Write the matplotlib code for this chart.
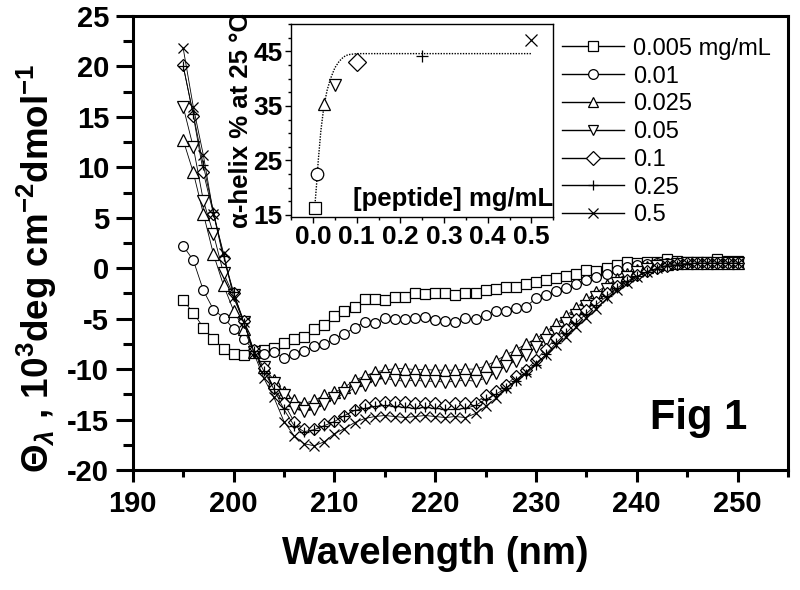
import numpy as np
import matplotlib
matplotlib.use("Agg")
import matplotlib.pyplot as plt
from matplotlib.lines import Line2D
from matplotlib.ticker import MultipleLocator

plt.rcParams["font.family"] = ["Liberation Sans", "DejaVu Sans"]
plt.rcParams["font.weight"] = "bold"
plt.rcParams["axes.labelweight"] = "bold"
plt.rcParams["axes.unicode_minus"] = False
plt.rcParams["mathtext.fontset"] = "custom"
plt.rcParams["mathtext.rm"] = "Liberation Sans:bold"
plt.rcParams["mathtext.bf"] = "Liberation Sans:bold"
plt.rcParams["mathtext.it"] = "Liberation Sans:italic"

# CD spectra, 195-250 nm, 1 nm step
wavelength = np.arange(195, 251)

conc_005 = [-3.2, -4.4, -5.9, -7.0, -8.0, -8.5, -8.6, -8.3, -8.1, -7.9,
            -7.4, -7.0, -6.8, -6.0, -5.6, -4.7, -4.2, -3.8, -3.1, -3.1,
            -3.2, -2.9, -2.9, -2.5, -2.6, -2.5, -2.5, -2.7, -2.5, -2.5,
            -2.2, -2.1, -1.85, -1.85, -1.6, -1.35, -1.2, -1.0, -0.8, -0.6,
            -0.2, -0.25, 0.0, 0.3, 0.6, 0.5, 0.6, 0.6, 0.9, 0.7,
            0.6, 0.6, 0.6, 0.9, 0.7, 0.7]
conc_01 = [2.2, 0.8, -2.2, -4.1, -4.9, -6.0, -7.0, -8.1, -8.5, -8.3,
           -8.9, -8.5, -8.2, -7.7, -7.5, -7.0, -6.5, -5.9, -5.3, -5.4,
           -4.9, -5.0, -5.0, -4.9, -4.8, -5.1, -5.2, -5.3, -4.9, -5.05,
           -4.65, -4.2, -4.2, -3.9, -3.8, -3.0, -2.7, -2.3, -2.0, -1.6,
           -1.2, -0.9, -0.6, -0.2, 0.1, 0.3, 0.4, 0.5, 0.5, 0.5,
           0.5, 0.6, 0.5, 0.6, 0.5, 0.5]
conc_025 = [12.7, 9.5, 5.4, 1.4, -1.7, -4.2, -6.0, -8.3, -9.8, -11.1,
            -12.3, -13.1, -13.4, -13.1, -12.6, -12.3, -11.8, -11.1, -10.7, -10.3,
            -10.1, -9.95, -9.95, -10.05, -10.05, -10.1, -10.1, -10.1, -10.0, -10.0,
            -9.7, -9.2, -8.6, -8.1, -7.5, -7.0, -6.3, -5.5, -4.7, -3.9,
            -3.1, -2.4, -1.7, -1.1, -0.6, -0.2, 0.1, 0.3, 0.4, 0.5,
            0.5, 0.5, 0.5, 0.5, 0.5, 0.5]
conc_05 = [16.0, 12.0, 6.7, 3.4, -0.5, -2.7, -5.3, -8.3, -9.8, -11.4,
           -12.6, -13.9, -14.2, -14.0, -13.5, -12.9, -12.4, -11.9, -11.6, -11.1,
           -10.9, -11.1, -11.2, -11.1, -11.2, -11.2, -11.3, -11.2, -11.1, -11.2,
           -10.9, -10.4, -9.7, -9.2, -8.6, -7.8, -7.1, -6.3, -5.4, -4.6,
           -3.7, -2.9, -2.1, -1.5, -0.9, -0.4, -0.1, 0.2, 0.35, 0.45,
           0.5, 0.5, 0.5, 0.5, 0.5, 0.5]
conc_1 = [20.1, 15.1, 9.5, 5.4, 1.0, -2.5, -5.2, -8.1, -9.9, -11.9,
          -13.4, -15.2, -15.9, -15.9, -15.4, -15.1, -14.6, -14.1, -13.6, -13.4,
          -13.3, -13.3, -13.3, -13.4, -13.35, -13.4, -13.6, -13.4, -13.35, -13.35,
          -12.6, -12.2, -11.6, -10.7, -10.1, -9.1, -8.0, -6.9, -6.0, -5.0,
          -4.1, -3.3, -2.5, -1.8, -1.2, -0.7, -0.3, 0.0, 0.2, 0.4,
          0.5, 0.5, 0.5, 0.5, 0.5, 0.5]
conc_25 = [20.0, 15.3, 10.2, 5.6, 1.2, -2.4, -5.4, -8.2, -10.2, -12.0,
           -14.0, -15.6, -16.2, -16.0, -15.6, -15.2, -14.6, -14.1, -13.9, -13.7,
           -13.6, -13.7, -13.8, -13.9, -13.8, -13.9, -14.0, -14.0, -13.9, -13.6,
           -13.0, -12.5, -11.9, -11.2, -10.5, -9.6, -8.5, -7.4, -6.4, -5.4,
           -4.5, -3.6, -2.8, -2.0, -1.3, -0.8, -0.4, -0.1, 0.2, 0.35,
           0.45, 0.5, 0.5, 0.5, 0.5, 0.5]
conc_5 = [21.8, 16.0, 11.2, 5.4, 1.5, -2.9, -5.3, -8.4, -10.9, -12.8,
          -15.2, -16.6, -17.4, -17.6, -17.2, -16.4, -15.9, -15.3, -14.9, -14.7,
          -14.6, -14.7, -14.8, -14.7, -14.6, -14.7, -14.8, -14.7, -14.8, -14.4,
          -13.7, -12.9, -11.9, -11.1, -10.3, -9.4, -8.6, -7.6, -6.8, -5.8,
          -4.9, -4.0, -3.0, -2.2, -1.5, -0.85, -0.35, 0.0, 0.3, 0.45,
          0.5, 0.5, 0.5, 0.5, 0.5, 0.5]

series = [conc_005, conc_01, conc_025, conc_05, conc_1, conc_25, conc_5]
labels = ["0.005 mg/mL", "0.01", "0.025", "0.05", "0.1", "0.25", "0.5"]
markers = ["s", "o", "^", "v", "D", "+", "x"]
sizes = [6.5, 7.0, 8.0, 8.0, 6.0, 7.5, 7.5]

# inset: helix content vs peptide concentration
peptide = [0.005, 0.01, 0.025, 0.05, 0.1, 0.25, 0.5]
helix = [16.3, 22.6, 35.4, 38.9, 43.1, 44.2, 47.1]
fit_x = [0.005, 0.008, 0.012, 0.018, 0.025, 0.032, 0.04, 0.05, 0.06,
         0.07, 0.08, 0.1, 0.15, 0.3, 0.5]
fit_y = [17.5, 20.5, 25.0, 30.5, 35.0, 37.8, 40.0, 42.0, 43.2,
         44.0, 44.4, 44.6, 44.6, 44.6, 44.6]

fig = plt.figure(figsize=(8, 5.9), dpi=100)
ax = fig.add_axes([0.166, 0.2034, 0.819, 0.7695])

for vals, m, s in zip(series, markers, sizes):
    ax.plot(wavelength, vals, color="k", lw=0.6, marker=m, ms=s,
            mfc="white", mec="k", mew=0.9)

ax.set_xlim(190, 255)
ax.set_ylim(-20, 25)
ax.xaxis.set_major_locator(MultipleLocator(10))
ax.xaxis.set_minor_locator(MultipleLocator(5))
ax.yaxis.set_major_locator(MultipleLocator(5))
ax.yaxis.set_minor_locator(MultipleLocator(2.5))
for sp in ax.spines.values():
    sp.set_linewidth(2.2)
ax.tick_params(axis="x", which="major", direction="out", length=8.5, width=2.2,
               labelsize=21, pad=6)
ax.tick_params(axis="x", which="minor", direction="out", length=5, width=2.2)
ax.tick_params(axis="y", which="major", direction="out", length=12, width=2.2,
               labelsize=21, pad=5)
ax.tick_params(axis="y", which="minor", direction="out", length=7, width=2.2)

ax.set_xlabel("Wavelength (nm)", fontsize=27.5, fontweight="bold")
ax.xaxis.set_label_coords(0.461, -0.145)
ax.set_ylabel(r"$\Theta_\lambda$ , 10$^3$deg cm$^{-2}$dmol$^{-1}$",
              fontsize=26.5, fontweight="bold")
ax.yaxis.set_label_coords(-0.112, 0.445)

ax.text(251, -15.9, "Fig 1", fontsize=30, ha="right", va="baseline")

handles = [Line2D([0], [0], color="k", lw=1, marker=m, ms=7, mfc="white",
                  mec="k", mew=0.9) for m in markers]
fig.legend(handles, labels, loc="upper left", bbox_to_anchor=(0.703, 0.936),
           frameon=False, numpoints=1, handlelength=2.6, handletextpad=0.4,
           labelspacing=0.245, borderpad=0, borderaxespad=0,
           prop={"weight": "normal", "size": 17})

axin = fig.add_axes([0.364, 0.632, 0.3275, 0.327])
axin.plot(fit_x, fit_y, color="k", lw=1, ls=(0, (1, 1)))
for x, y, m in zip(peptide, helix, markers):
    axin.plot(x, y, marker=m, ms=9, mfc="white", mec="k", mew=0.9,
              color="k", ls="none")
axin.set_xlim(-0.05, 0.55)
axin.set_ylim(14.6, 50)
axin.set_yticks([15, 25, 35, 45])
axin.yaxis.set_minor_locator(MultipleLocator(2.5))
axin.xaxis.set_major_locator(MultipleLocator(0.1))
axin.xaxis.set_minor_locator(MultipleLocator(0.05))
for sp in axin.spines.values():
    sp.set_linewidth(1)
axin.tick_params(which="major", direction="out", length=4, width=1,
                 labelsize=19, pad=2)
axin.tick_params(which="minor", direction="out", length=2.5, width=1)
axin.set_ylabel("α-helix % at 25 °C", fontsize=18.5, fontweight="bold",
                labelpad=0)
axin.text(1.0, 0.06, "[peptide] mg/mL", transform=axin.transAxes,
          ha="right", va="baseline", fontsize=18.5)

fig.savefig("out.png", dpi=100)
